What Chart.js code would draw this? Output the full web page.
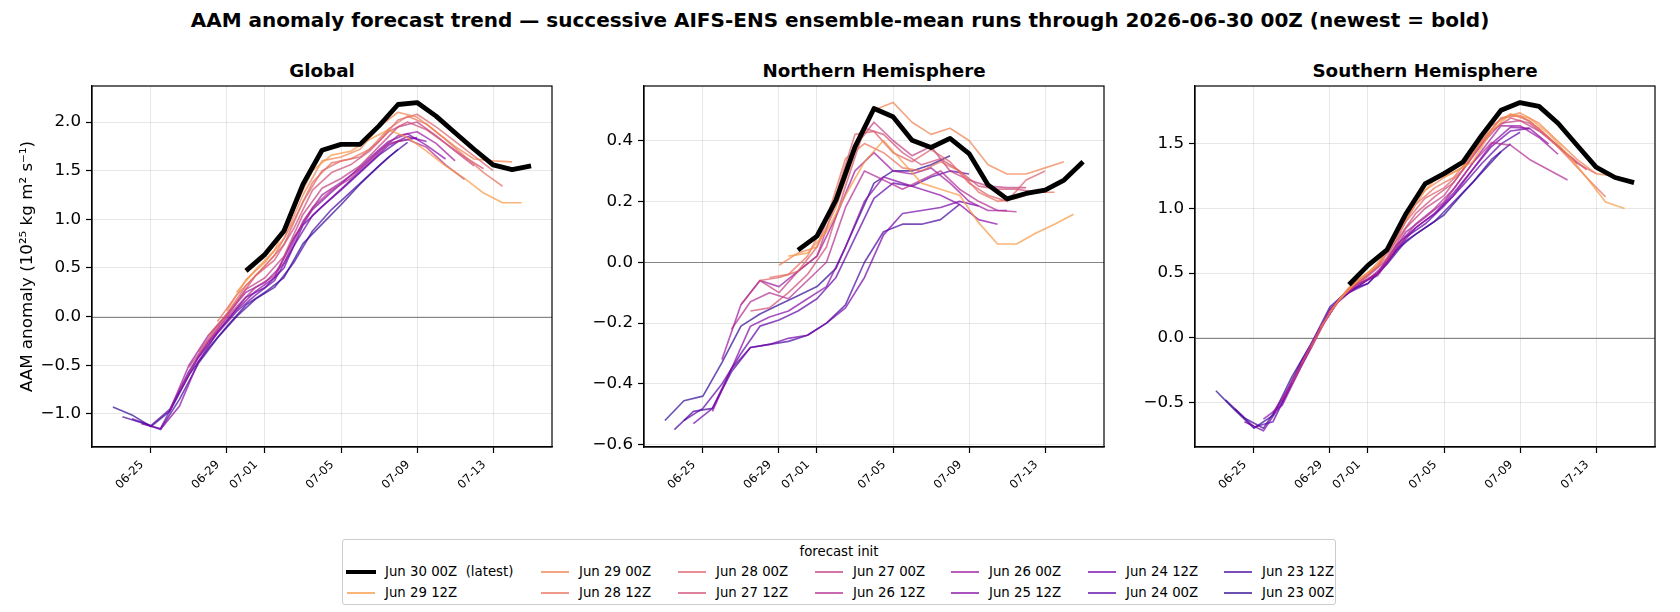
<!DOCTYPE html>
<html>
<head>
<meta charset="utf-8">
<script src="https://cdn.jsdelivr.net/npm/chart.js@4.4.1/dist/chart.umd.min.js"></script>
<style>
  html, body { margin:0; padding:0; background:#fff; }
  body { width:1680px; height:612px; overflow:hidden; position:relative; font-family:"DejaVu Sans", sans-serif; color:#000; }
  #suptitle { position:absolute; left:0; top:8px; width:1680px; text-align:center; font-weight:bold; font-size:20px; line-height:24px; white-space:nowrap; }
  .ptitle { position:absolute; top:60px; width:460px; text-align:center; font-weight:bold; font-size:18.3px; line-height:22px; white-space:nowrap; }
  canvas { position:absolute; top:76px; }
  #legend { position:absolute; left:342px; top:539px; width:994px; height:66px; border:1px solid #cccccc; border-radius:3px; box-sizing:border-box; background:#fff; }
  #legtitle { position:absolute; left:0; width:100%; top:4px; text-align:center; font-size:13.3px; line-height:16px; }
  .li { position:absolute; height:18px; font-size:13.3px; line-height:18px; white-space:pre; }
  .sw { position:absolute; top:50%; }
  .lt { position:absolute; top:0; }
</style>
</head>
<body>
<div id="suptitle">AAM anomaly forecast trend — successive AIFS-ENS ensemble-mean runs through 2026-06-30 00Z (newest = bold)</div>
<div class="ptitle" style="left:92px">Global</div>
<div class="ptitle" style="left:644px">Northern Hemisphere</div>
<div class="ptitle" style="left:1195px">Southern Hemisphere</div>
<canvas id="cGlobal" width="562" height="431" style="left:0px"></canvas>
<canvas id="cNH" width="562" height="431" style="left:552px"></canvas>
<canvas id="cSH" width="562" height="431" style="left:1103px"></canvas>
<div id="legend"><div id="legtitle">forecast init</div></div>
<script>
// ---------------- data ----------------
// forecast runs, newest first (first = latest, drawn bold)
const runLabels = ["Jun 30 00Z", "Jun 29 12Z", "Jun 29 00Z", "Jun 28 12Z", "Jun 28 00Z", "Jun 27 12Z", "Jun 27 00Z",
                   "Jun 26 12Z", "Jun 26 00Z", "Jun 25 12Z", "Jun 24 12Z", "Jun 24 00Z", "Jun 23 12Z", "Jun 23 00Z"];
// init time of each run, in days after 2026-06-25 00Z
const initDays = [5, 4.5, 4, 3.5, 3, 2.5, 2, 1.5, 1, 0.5, -0.5, -1, -1.5, -2];
// daily values from each init (10^25 kg m^2 s^-1)
const globalVals = [
  [0.47,0.64,0.88,1.36,1.71,1.77,1.77,1.96,2.18,2.20,2.06,1.89,1.72,1.56,1.51,1.55],
  [0.25,0.48,0.68,1.10,1.50,1.66,1.70,1.82,1.92,1.84,1.70,1.55,1.42,1.27,1.17,1.17],
  [0.06,0.38,0.56,0.80,1.25,1.60,1.64,1.72,1.95,2.10,2.05,1.90,1.75,1.62,1.60,1.59],
  [-0.05,0.22,0.42,0.63,0.98,1.38,1.58,1.62,1.72,1.93,2.06,1.98,1.82,1.65,1.48,1.34],
  [-0.20,0.03,0.32,0.52,0.74,1.18,1.50,1.60,1.64,1.80,2.02,2.08,1.95,1.80,1.65,1.50],
  [-0.36,-0.10,0.15,0.42,0.58,0.90,1.30,1.48,1.56,1.70,1.90,2.00,1.92,1.78,1.64,1.52],
  [-0.52,-0.25,0.00,0.28,0.40,0.62,1.05,1.32,1.42,1.55,1.75,1.95,2.00,1.86,1.70,1.55],
  [-0.76,-0.40,-0.13,0.10,0.30,0.42,0.80,1.12,1.30,1.42,1.60,1.78,1.82,1.74,1.56,1.41],
  [-0.96,-0.50,-0.20,0.02,0.25,0.35,0.55,0.98,1.25,1.38,1.52,1.70,1.86,1.90,1.78,1.60],
  [-1.16,-0.92,-0.46,-0.16,0.07,0.26,0.40,0.80,1.10,1.28,1.45,1.63,1.80,1.88,1.76,1.62],
  [-1.10,-1.15,-0.78,-0.42,-0.17,0.05,0.22,0.37,0.72,1.04,1.22,1.40,1.58,1.76,1.85,1.80],
  [-1.05,-1.12,-0.95,-0.56,-0.27,-0.04,0.20,0.30,0.50,0.94,1.13,1.30,1.48,1.66,1.80,1.84],
  [-1.03,-1.09,-1.16,-0.85,-0.48,-0.22,0.00,0.18,0.30,0.55,0.88,1.10,1.28,1.46,1.64,1.79],
  [-0.93,-1.01,-1.13,-0.97,-0.60,-0.33,-0.10,0.12,0.25,0.40,0.75,0.95,1.15,1.36,1.55,1.72]
];
const nhVals = [
  [0.04,0.086,0.204,0.379,0.505,0.478,0.401,0.377,0.407,0.357,0.254,0.208,0.226,0.237,0.27,0.33],
  [0.02,0.03,0.10,0.22,0.33,0.40,0.33,0.26,0.24,0.22,0.13,0.06,0.06,0.095,0.125,0.158],
  [-0.01,0.03,0.05,0.18,0.36,0.50,0.525,0.46,0.42,0.44,0.40,0.32,0.29,0.29,0.31,0.33],
  [-0.05,-0.04,0.02,0.14,0.34,0.39,0.36,0.31,0.30,0.33,0.30,0.23,0.20,0.21,0.23,0.23],
  [-0.06,-0.05,-0.03,0.05,0.22,0.42,0.43,0.36,0.33,0.37,0.33,0.26,0.22,0.20,0.27,0.30],
  [-0.16,-0.15,-0.10,-0.04,0.05,0.25,0.44,0.42,0.36,0.32,0.34,0.30,0.25,0.24,0.24,0.23],
  [-0.14,-0.06,-0.10,-0.03,0.02,0.20,0.38,0.46,0.40,0.35,0.38,0.30,0.27,0.25,0.245,0.245],
  [-0.22,-0.13,-0.10,-0.12,-0.06,0.00,0.18,0.30,0.27,0.24,0.27,0.30,0.24,0.20,0.17,0.166],
  [-0.32,-0.14,-0.06,-0.08,-0.03,0.02,0.15,0.30,0.36,0.30,0.29,0.31,0.26,0.20,0.17,0.17],
  [-0.49,-0.35,-0.21,-0.18,-0.16,-0.12,-0.08,0.05,0.20,0.28,0.26,0.24,0.22,0.19,0.14,0.125],
  [-0.53,-0.48,-0.35,-0.28,-0.27,-0.25,-0.24,-0.20,-0.15,-0.05,0.09,0.16,0.17,0.18,0.20,0.185],
  [-0.52,-0.48,-0.40,-0.30,-0.21,-0.19,-0.16,-0.12,-0.05,0.08,0.21,0.26,0.25,0.28,0.30,0.29],
  [-0.55,-0.49,-0.48,-0.36,-0.28,-0.27,-0.26,-0.24,-0.20,-0.14,0.00,0.10,0.125,0.125,0.14,0.19],
  [-0.52,-0.455,-0.44,-0.33,-0.21,-0.17,-0.14,-0.11,-0.08,-0.02,0.12,0.26,0.30,0.30,0.32,0.35]
];
const shVals = [
  [0.41,0.56,0.68,0.96,1.19,1.27,1.36,1.57,1.76,1.82,1.79,1.66,1.49,1.32,1.24,1.20],
  [0.30,0.45,0.56,0.80,1.06,1.22,1.28,1.36,1.60,1.73,1.70,1.58,1.42,1.24,1.05,1.00],
  [0.20,0.39,0.50,0.66,0.92,1.14,1.24,1.32,1.52,1.70,1.74,1.66,1.52,1.38,1.27,1.25],
  [0.08,0.30,0.45,0.56,0.78,1.03,1.16,1.24,1.42,1.64,1.73,1.68,1.55,1.40,1.24,1.09],
  [-0.08,0.20,0.38,0.48,0.62,0.90,1.08,1.16,1.30,1.52,1.70,1.72,1.62,1.48,1.35,1.27],
  [-0.20,0.08,0.30,0.43,0.55,0.75,0.96,1.09,1.20,1.40,1.60,1.70,1.66,1.55,1.42,1.30],
  [-0.35,-0.08,0.20,0.38,0.48,0.60,0.85,1.00,1.10,1.30,1.50,1.66,1.68,1.60,1.48,1.35],
  [-0.48,-0.20,0.08,0.30,0.42,0.50,0.70,0.88,1.00,1.15,1.35,1.51,1.49,1.38,1.30,1.22],
  [-0.58,-0.35,-0.07,0.22,0.38,0.45,0.58,0.82,0.93,1.05,1.25,1.45,1.64,1.64,1.55,1.42],
  [-0.63,-0.52,-0.22,0.07,0.30,0.42,0.48,0.68,0.85,0.96,1.10,1.30,1.50,1.63,1.62,1.50],
  [-0.65,-0.72,-0.50,-0.20,0.08,0.30,0.40,0.50,0.72,0.85,0.96,1.12,1.30,1.48,1.60,1.62],
  [-0.55,-0.69,-0.65,-0.35,-0.08,0.22,0.35,0.42,0.58,0.78,0.88,1.02,1.18,1.35,1.50,1.59],
  [-0.48,-0.62,-0.70,-0.48,-0.18,0.08,0.30,0.40,0.50,0.68,0.80,0.90,1.05,1.20,1.38,1.50],
  [-0.41,-0.56,-0.70,-0.60,-0.30,-0.05,0.24,0.37,0.42,0.57,0.75,0.85,0.95,1.12,1.28,1.44]
];
// x tick labels (MM-DD, 2026) and y ticks per panel
const xTickLabels = ["06-25", "06-29", "07-01", "07-05", "07-09", "07-13"];
const globalYTicks = [-1.0, -0.5, 0.0, 0.5, 1.0, 1.5, 2.0];
const nhYTicks = [-0.6, -0.4, -0.2, 0.0, 0.2, 0.4];
const shYTicks = [-0.5, 0.0, 0.5, 1.0, 1.5];

// ---------------- styling ----------------
const runColors = ["#000000", "#f89540", "#f0804e", "#e76e5b", "#db5c68", "#cf4c74", "#c13b82",
                   "#b12a90", "#9c179e", "#8808a6", "#7201a8", "#5b01a5", "#44039e", "#2c0594"];
const thinAlpha = "b3";
const FONT = "DejaVu Sans";

const DAY_MS = 86400000;
const ORIGIN = Date.UTC(2026, 5, 25);
const xTickDays = xTickLabels.map(s => {
  const [m, d] = s.split("-").map(Number);
  return (Date.UTC(2026, m - 1, d) - ORIGIN) / DAY_MS;
});
const fmtY = v => (v < 0 ? "\u2212" : "") + Math.abs(v).toFixed(1);

const framePlugin = {
  id: "frame",
  beforeDatasetsDraw(chart) {
    const {ctx, chartArea: a, scales: {y}} = chart;
    const py = Math.round(y.getPixelForValue(0)) + 0.5;
    ctx.save();
    ctx.strokeStyle = "#858585";
    ctx.lineWidth = 1.2;
    ctx.beginPath(); ctx.moveTo(a.left, py); ctx.lineTo(a.right, py); ctx.stroke();
    ctx.restore();
  },
  afterDraw(chart) {
    const {ctx, chartArea: a} = chart;
    ctx.save();
    ctx.strokeStyle = "#000";
    ctx.lineWidth = 1.2;
    ctx.strokeRect(a.left, a.top, a.right - a.left, a.bottom - a.top);
    ctx.restore();
  }
};

function makeChart(id, vals, yMin, yMax, yTicks, yTitle) {
  const datasets = vals.map((arr, i) => ({
    label: runLabels[i],
    data: arr.map((v, k) => ({x: initDays[i] + k, y: v})),
    borderColor: i === 0 ? "#000000" : runColors[i] + thinAlpha,
    borderWidth: i === 0 ? 4.8 : 1.65,
    pointRadius: 0,
    tension: 0,
    fill: false,
    borderJoinStyle: "round",
    borderCapStyle: "butt"
  }));
  return new Chart(document.getElementById(id), {
    type: "line",
    data: {datasets},
    options: {
      responsive: false,
      animation: false,
      devicePixelRatio: 1,
      layout: {padding: {left: 0, right: 10, top: 10, bottom: 0}},
      plugins: {legend: {display: false}, tooltip: {enabled: false}, title: {display: false}},
      scales: {
        x: {
          type: "linear", min: -3.1, max: 21.1,
          afterBuildTicks: s => { s.ticks = xTickDays.map(v => ({value: v})); },
          afterFit: s => { s.height = 60; s.paddingLeft = 0; s.paddingRight = 0; },
          ticks: {
            autoSkip: false, minRotation: 45, maxRotation: 45, color: "#000",
            font: {family: FONT, size: 11.7}, padding: 5, labelOffset: -9,
            callback: v => xTickLabels[xTickDays.indexOf(v)]
          },
          grid: {color: "rgba(176,176,176,0.3)", lineWidth: 1, tickColor: "#000", tickLength: 6, tickWidth: 1.2},
          border: {display: true, color: "#000", width: 1.2}
        },
        y: {
          type: "linear", min: yMin, max: yMax,
          afterBuildTicks: s => { s.ticks = yTicks.map(v => ({value: v})); },
          afterFit: s => { s.width = 92; s.paddingTop = 0; s.paddingBottom = 0; },
          ticks: {autoSkip: false, color: "#000", font: {family: FONT, size: 16.7}, padding: 5, callback: v => fmtY(v)},
          grid: {color: "rgba(176,176,176,0.3)", lineWidth: 1, tickColor: "#000", tickLength: 6, tickWidth: 1.2},
          border: {display: true, color: "#000", width: 1.2},
          title: {display: !!yTitle, text: yTitle || "", color: "#000", font: {family: FONT, size: 16.7}, padding: {top: 18, bottom: 0}}
        }
      }
    },
    plugins: [framePlugin]
  });
}

Chart.defaults.font.family = FONT;
makeChart("cGlobal", globalVals, -1.34, 2.37, globalYTicks, "AAM anomaly (10\u00b2\u2075 kg m\u00b2 s\u207b\u00b9)");
makeChart("cNH", nhVals, -0.607, 0.579, nhYTicks, null);
makeChart("cSH", shVals, -0.845, 1.948, shYTicks, null);

// ---------------- legend (column-major, 7 x 2) ----------------
const legend = document.getElementById("legend");
const colX = [3, 197, 334, 471, 607, 744, 880];
const rowY = [25, 46];
runLabels.forEach((lab, i) => {
  const col = Math.floor(i / 2), row = i % 2;
  const item = document.createElement("div");
  item.className = "li";
  item.style.left = colX[col] + "px";
  item.style.top = (rowY[row] - 2) + "px";
  const sw = document.createElement("div");
  sw.className = "sw";
  const h = i === 0 ? 4.8 : 1.7;
  sw.style.width = (i === 0 ? 30 : 28) + "px";
  sw.style.left = (i === 0 ? 0 : 1) + "px";
  sw.style.height = h + "px";
  sw.style.marginTop = (-h / 2) + "px";
  sw.style.background = i === 0 ? "#000" : runColors[i] + thinAlpha;
  const t = document.createElement("div");
  t.className = "lt";
  t.style.left = "39px";
  t.textContent = i === 0 ? lab + "  (latest)" : lab;
  item.appendChild(sw); item.appendChild(t);
  legend.appendChild(item);
});
</script>
</body>
</html>
